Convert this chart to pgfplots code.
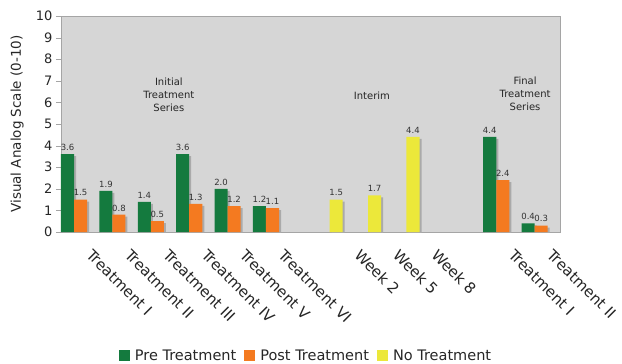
\documentclass[border=0pt]{standalone}
\usepackage{pgfplots}
\pgfplotsset{compat=1.18}
\usepackage{fontspec}
\setmainfont{DejaVu Sans}
\definecolor{pregreen}{RGB}{20,122,62}
\definecolor{postorange}{RGB}{244,122,32}
\definecolor{noyellow}{RGB}{236,232,58}
\definecolor{plotbg}{RGB}{214,214,214}
\definecolor{framegray}{RGB}{165,165,165}
\definecolor{shadowgray}{RGB}{170,170,170}
\begin{document}
\begin{tikzpicture}
\begin{axis}[
  scale only axis, width=499pt, height=216pt,
  xmin=0, xmax=13, ymin=0, ymax=10,
  axis background/.style={fill=plotbg},
  axis line style={framegray},
  /pgf/number format/assume math mode=true,
  ytick={0,1,...,10},
  ytick pos=left, tick align=outside, major tick length=5pt,
  ytick style={framegray},
  yticklabel style={font=\fontsize{13}{13}\selectfont, text=black!85},
  xtick={0.68,1.68,2.68,3.68,4.68,5.68,7.68,8.68,9.68,11.68,12.68},
  xticklabels={Treatment I, Treatment II, Treatment III, Treatment IV, Treatment V, Treatment VI, Week 2, Week 5, Week 8, Treatment I, Treatment II},
  xtick style={draw=none},
  xticklabel style={yshift=-11pt, xshift=6pt, rotate=-45, anchor=north west, inner sep=0pt, font=\fontsize{15}{15}\selectfont, text=black!85},
  ylabel={Visual Analog Scale (0-10)},
  ylabel style={at={(axis description cs:-0.088,0.5)}, anchor=center, font=\fontsize{13.5}{14}\selectfont, text=black!85},
  legend style={at={(0.491,-0.574)}, anchor=center, draw=none, fill=none, legend columns=3,
    font=\fontsize{14.5}{14.5}\selectfont, text=black!85,
    /tikz/every even column/.append style={column sep=6pt}},
  bar width=0.34,
]
% shadows
\addplot[ybar, bar shift=0pt, fill=shadowgray, draw=none, forget plot, xshift=2pt, yshift=-2pt]
  coordinates {(0.17,3.6) (1.17,1.9) (2.17,1.4) (3.17,3.6) (4.17,2.0) (5.17,1.2) (11.17,4.4) (12.17,0.4)
  (0.51,1.5) (1.51,0.8) (2.51,0.5) (3.51,1.3) (4.51,1.2) (5.51,1.1) (11.51,2.4) (12.51,0.3)
  (7.17,1.5) (8.17,1.7) (9.17,4.4)};
% Pre Treatment
\addplot[ybar, bar shift=0pt, fill=pregreen, draw=none,
  legend image code/.code={\fill[pregreen] (0pt,-5.5pt) rectangle (11pt,5.5pt); \path (14pt,0pt);},
  nodes near coords={\pgfmathprintnumber[fixed,fixed zerofill,precision=1]{\pgfplotspointmeta}},
  every node near coord/.append style={font=\fontsize{8.5}{9}\selectfont, text=black!80}]
  coordinates {(0.17,3.6) (1.17,1.9) (2.17,1.4) (3.17,3.6) (4.17,2.0) (5.17,1.2) (11.17,4.4) (12.17,0.4)};
\addlegendentry{Pre Treatment}
% Post Treatment
\addplot[ybar, bar shift=0pt, fill=postorange, draw=none,
  legend image code/.code={\fill[postorange] (0pt,-5.5pt) rectangle (11pt,5.5pt); \path (14pt,0pt);},
  nodes near coords={\pgfmathprintnumber[fixed,fixed zerofill,precision=1]{\pgfplotspointmeta}},
  every node near coord/.append style={font=\fontsize{8.5}{9}\selectfont, text=black!80}]
  coordinates {(0.51,1.5) (1.51,0.8) (2.51,0.5) (3.51,1.3) (4.51,1.2) (5.51,1.1) (11.51,2.4) (12.51,0.3)};
\addlegendentry{Post Treatment}
% No Treatment
\addplot[ybar, bar shift=0pt, fill=noyellow, draw=none,
  legend image code/.code={\fill[noyellow] (0pt,-5.5pt) rectangle (11pt,5.5pt); \path (14pt,0pt);},
  nodes near coords={\pgfmathprintnumber[fixed,fixed zerofill,precision=1]{\pgfplotspointmeta}},
  every node near coord/.append style={font=\fontsize{8.5}{9}\selectfont, text=black!80}]
  coordinates {(7.17,1.5) (8.17,1.7) (9.17,4.4)};
\addlegendentry{No Treatment}
\node[align=center, font=\fontsize{10}{13}\selectfont, text=black!85] at (axis cs:2.81,6.34) {Initial\\Treatment\\Series};
\node[align=center, font=\fontsize{10}{13}\selectfont, text=black!85] at (axis cs:8.10,6.3) {Interim};
\node[align=center, font=\fontsize{10}{13}\selectfont, text=black!85] at (axis cs:12.09,6.39) {Final\\Treatment\\Series};
\end{axis}
\pgfresetboundingbox
\path[use as bounding box] ([shift={(-61pt,-132pt)}]current axis.south west) rectangle ([shift={(62pt,16pt)}]current axis.north east);
\end{tikzpicture}
\end{document}
